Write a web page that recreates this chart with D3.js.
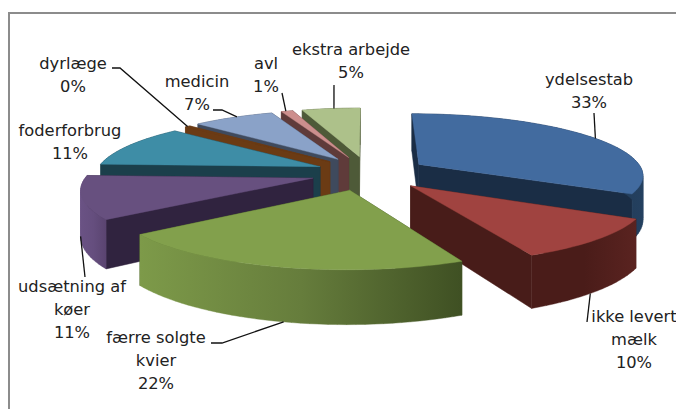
<!DOCTYPE html>
<html><head><meta charset="utf-8">
<script src="https://cdnjs.cloudflare.com/ajax/libs/d3/7.8.5/d3.min.js"></script>
<style>html,body{margin:0;padding:0;background:#fff;overflow:hidden}svg{display:block}
text{font-family:"DejaVu Sans",sans-serif;font-size:16.3px;fill:#222}</style>
</head><body><svg width="676" height="409"></svg>
<script>
// ---- data ----
const categories = ["ydelsestab","ikke levert mælk","færre solgte kvier","udsætning af køer","foderforbrug","dyrlæge","medicin","avl","ekstra arbejde"];
const values = [33,10.4,21.7,11,11,0.45,7,1,5];
const percentLabels = ["33%","10%","22%","11%","11%","0%","7%","1%","5%"];
// ---- styles ----
const topColors = ["#426b9f","#a04340","#82a04c","#67507f","#3e8da6","#6b3b14","#8aa2c8","#cd8f8d","#adc18a"];
const cutColors = ["#1a2d45","#481c19","#3f5023","#30233f","#1b3f4b","#6b3b14","#3f4a5d","#5f3b3a","#4e5a38"];
const wallStops = [["#1a2d45","#1a2d45","#24405f"],["#4a1c19","#4a1c19","#5a2320"],["#7d9a49","#667d3c","#3f5023"],["#6a5284","#654e7e","#5a4470"],["#1b3f4b","#1b3f4b","#1b3f4b"],["#6b3b14","#6b3b14","#6b3b14"],["#3f4a5d","#3f4a5d","#3f4a5d"],["#5f3b3a","#5f3b3a","#5f3b3a"],["#4e5a38","#4e5a38","#4e5a38"]];
const explodeX = [1,1,1,.87,.8,.8,.82,.85,.7];
// label layout: centre x, first baseline, lines
const labelLayout = [
 {x:589,y:85,lines:["ydelsestab"]},
 {x:634,y:322,lines:["ikke levert","mælk"]},
 {x:156,y:343,lines:["færre solgte","kvier"]},
 {x:72,y:292,lines:["udsætning af","køer"]},
 {x:70,y:136,lines:["foderforbrug"]},
 {x:73,y:69,lines:["dyrlæge"]},
 {x:197,y:87,lines:["medicin"]},
 {x:266,y:69,lines:["avl"]},
 {x:351,y:55,lines:["ekstra arbejde"]}
];
// leader: fixed points on the label side, then attach at fraction t of the slice's arc, level z (0 top, 1 bottom)
const leaders = [
 {pts:[[594,113]],t:.52,z:0},
 {pts:[[587,322]],t:.56,z:1},
 {pts:[[211,343],[222,343]],t:.485,z:1},
 {pts:[[85,277]],t:.66,z:1},
 null,
 {pts:[[112,68],[120,68]],t:.5,z:0},
 {pts:[[213,110],[222,110]],t:.55,z:0},
 {pts:[[282,93]],t:.4,z:0},
 {pts:[[334,85]],t:.55,z:0}
];
// ---- projection ----
const cx=366, cy=173, A=225, B=61, H=44, P=.156, E=.28;
function project(X,Y,z){const w=1+Y*P;return [cx+A*X/w, cy-(Y*B-z*H)/w];}
const pie=d3.pie().sort(null).value(d=>d).startAngle(0).endAngle(2*Math.PI);
const arcs=pie(values).map((a,i)=>{const m=(a.startAngle+a.endAngle)/2;return {...a,i,mid:m,ox:E*explodeX[i]*Math.sin(m),oy:E*Math.cos(m)};});
const pt=(a,th,r,z)=>project(a.ox+r*Math.sin(th),a.oy+r*Math.cos(th),z);
const arcPts=(a,z)=>{const n=Math.max(2,Math.ceil((a.endAngle-a.startAngle)*30));return d3.range(n+1).map(k=>{const t=d3.scaleLinear().domain([0,n]).range([a.startAngle,a.endAngle])(k);return pt(a,t,1,z);});};
const line=d3.line();
const svg=d3.select("svg");
const defs=svg.append("defs");
// frame
svg.append("path").attr("d",line([[676,13],[9,13],[9,409]])).attr("fill","none").attr("stroke","#8c8c8c").attr("stroke-width",2);
// slices back to front
const order=arcs.slice().sort((a,b)=>b.oy-a.oy);
const g=svg.append("g");
order.forEach(a=>{
  const s=g.append("g");
  const top=arcPts(a,0), bot=arcPts(a,1);
  const ap0=pt(a,0,0,0), ap1=pt(a,0,0,1);
  const faces=[a.startAngle,a.endAngle].map(th=>[ap0,pt(a,th,1,0),pt(a,th,1,1),ap1]);
  const c=cutColors[a.i];
  const farFirst=Math.cos(a.startAngle)>Math.cos(a.endAngle)?[0,1]:[1,0];
  farFirst.forEach(k=>s.append("path").attr("d",line(faces[k])+"Z").attr("fill",c).attr("stroke",c).attr("stroke-width",.5));
  const xs=top.map(p=>p[0]);
  const id="w"+a.i;
  const gr=defs.append("linearGradient").attr("id",id).attr("gradientUnits","userSpaceOnUse")
    .attr("x1",d3.min(xs)).attr("x2",d3.max(xs)).attr("y1",0).attr("y2",0);
  wallStops[a.i].forEach((col,k)=>gr.append("stop").attr("offset",k/2).attr("stop-color",col));
  // outer wall: the silhouette of the swept arc, as one path of overlapping quads (no seams)
  const wall=d3.pairs(d3.range(top.length)).map(([u,v])=>{
    const q=[top[u],top[v],bot[v],bot[u]];
    const area=d3.polygonArea(q);
    return line(area<0?q.reverse():q)+"Z";
  }).join("");
  s.append("path").attr("d",wall).attr("fill",`url(#${id})`).attr("fill-rule","nonzero").attr("stroke",`url(#${id})`).attr("stroke-width",.4);
  s.append("path").attr("d",line([ap0].concat(top))+"Z").attr("fill",topColors[a.i]).attr("stroke",topColors[a.i]).attr("stroke-width",.4);
});
// leaders
const lg=svg.append("g");
leaders.forEach((l,i)=>{ if(!l) return; const a=arcs[i];
  const th=a.startAngle+l.t*(a.endAngle-a.startAngle);
  lg.append("path").attr("d",line(l.pts.concat([pt(a,th,1,l.z)]))).attr("fill","none").attr("stroke","#111").attr("stroke-width",1.3);
});
// labels
labelLayout.forEach((l,i)=>{
  const t=svg.append("text").attr("text-anchor","middle");
  l.lines.concat([percentLabels[i]]).forEach((s,k)=>t.append("tspan").attr("x",l.x).attr("y",l.y+k*22.8).text(s));
});
</script></body></html>
